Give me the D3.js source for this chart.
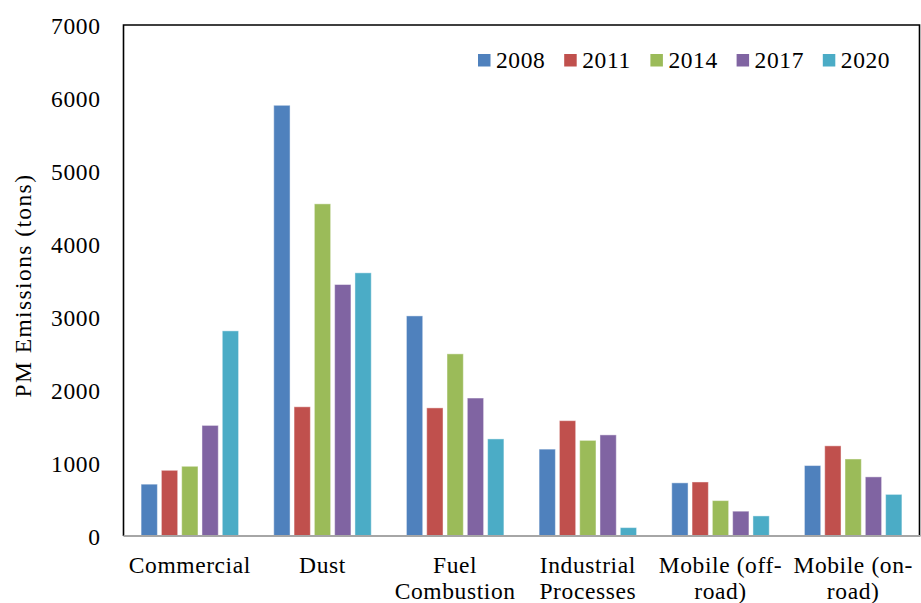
<!DOCTYPE html>
<html>
<head>
<meta charset="utf-8">
<script src="https://cdn.jsdelivr.net/npm/d3@7"></script>
<style>
  html, body { margin: 0; padding: 0; background: #fff; }
  svg text { font-family: "Liberation Serif", "DejaVu Serif", serif; fill: #000; }
</style>
</head>
<body>
<svg id="chart" width="921" height="603"></svg>
<script>
// PM emissions by source sector and inventory year (tons)
const categories = ["Commercial", "Dust", "Fuel Combustion", "Industrial Processes", "Mobile (off-road)", "Mobile (on-road)"];
const years = ["2008", "2011", "2014", "2017", "2020"];
const values2008 = [710, 5900, 3015, 1190, 728, 965];
const values2011 = [900, 1770, 1755, 1580, 740, 1235];
const values2014 = [955, 4550, 2495, 1310, 485, 1055];
const values2017 = [1515, 3445, 1890, 1385, 340, 810];
const values2020 = [2810, 3605, 1330, 115, 275, 570];
const seriesValues = [values2008, values2011, values2014, values2017, values2020];
const yTicks = [0, 1000, 2000, 3000, 4000, 5000, 6000, 7000];
const colors = ["#4F81BD", "#C0504D", "#9BBB59", "#8064A2", "#4BACC6"];

const svg = d3.select("#chart");
const plot = { left: 123.5, right: 919.5, top: 25, bottom: 536 };
const fontSize = 23.5;
const spacing = 0.6;

const x0 = d3.scaleBand().domain(categories)
  .range([plot.left, plot.right]).paddingInner(0.235).paddingOuter(0.1175);
const x1 = d3.scaleBand().domain(years).range([0, x0.bandwidth()]);
const y = d3.scaleLinear().domain([0, 7000]).range([plot.bottom, plot.top]);

// Bars
const rows = categories.map((c, i) => ({ cat: c, vals: years.map((yr, s) => ({ yr, s, v: seriesValues[s][i] })) }));
const groups = svg.append("g").selectAll("g").data(rows).join("g")
  .attr("transform", d => `translate(${x0(d.cat)},0)`);
const inset = 2;
groups.selectAll("rect").data(d => d.vals).join("rect")
  .attr("x", d => x1(d.yr) + inset)
  .attr("width", x1.bandwidth() - inset * 2)
  .attr("y", d => y(d.v))
  .attr("height", d => y(0) - y(d.v))
  .attr("fill", d => colors[d.s])
  .attr("stroke", "#fff").attr("stroke-opacity", 0.45).attr("stroke-width", 1);

// Y axis labels (no tick marks)
const yAxis = d3.axisLeft(y).tickValues(yTicks).tickSize(0).tickPadding(23).tickFormat(d3.format("d"));
const yg = svg.append("g").attr("transform", `translate(${plot.left},0)`).call(yAxis);
yg.select(".domain").remove();
yg.selectAll("text").attr("font-size", fontSize).attr("font-family", null)
  .attr("letter-spacing", spacing).attr("dy", "0.34em");

// Frame: black left, top and right; gray category axis
svg.append("path")
  .attr("d", `M${plot.left},${plot.bottom}V${plot.top}H${plot.right}V${plot.bottom}`)
  .attr("fill", "none").attr("stroke", "#000").attr("stroke-width", 1.6);
svg.append("line")
  .attr("x1", plot.left).attr("x2", plot.right + 1)
  .attr("y1", plot.bottom).attr("y2", plot.bottom)
  .attr("stroke", "#A6A6A6").attr("stroke-width", 2);

// Category labels, wrapped at spaces or after hyphens
const xAxis = d3.axisBottom(x0).tickSize(0).tickPadding(0);
const xg = svg.append("g").attr("transform", `translate(0,${plot.bottom})`).call(xAxis);
xg.select(".domain").remove();
xg.selectAll("text").attr("font-size", fontSize).attr("font-family", null).attr("dy", null)
  .attr("letter-spacing", spacing)
  .attr("y", 0)
  .each(function (d) {
    const t = d3.select(this);
    const tokens = d.match(/[^\s-]+-?/g);
    const parts = [];
    let rest = d;
    tokens.forEach(tok => {
      const idx = rest.indexOf(tok);
      parts.push({ sep: rest.slice(0, idx), tok });
      rest = rest.slice(idx + tok.length);
    });
    t.text(null);
    const maxW = 132;
    const lines = [];
    let cur = "";
    const meas = svg.append("text").attr("font-size", fontSize).attr("letter-spacing", spacing);
    parts.forEach(p => {
      const cand = cur === "" ? p.tok : cur + p.sep + p.tok;
      meas.text(cand);
      if (cur !== "" && meas.node().getComputedTextLength() > maxW) {
        lines.push(cur);
        cur = p.tok;
      } else cur = cand;
    });
    lines.push(cur);
    meas.remove();
    lines.forEach((ln, i) => {
      t.append("tspan").attr("x", 0).attr("y", 37 + i * 26).text(ln);
    });
  });

// Y axis title
svg.append("text")
  .attr("transform", `translate(31,${(168 + 403) / 2}) rotate(-90)`)
  .attr("text-anchor", "middle")
  .attr("font-size", fontSize)
  .attr("letter-spacing", 1.4)
  .text("PM Emissions (tons)");

// Legend
const legend = svg.append("g").selectAll("g").data(years).join("g")
  .attr("transform", (d, i) => `translate(${478 + i * 86.2},54)`);
legend.append("rect").attr("width", 12.5).attr("height", 12.5)
  .attr("fill", (d, i) => colors[i]);
legend.append("text").attr("x", 18).attr("y", 13.5).attr("font-size", fontSize)
  .attr("letter-spacing", spacing).text(d => d);
</script>
</body>
</html>
